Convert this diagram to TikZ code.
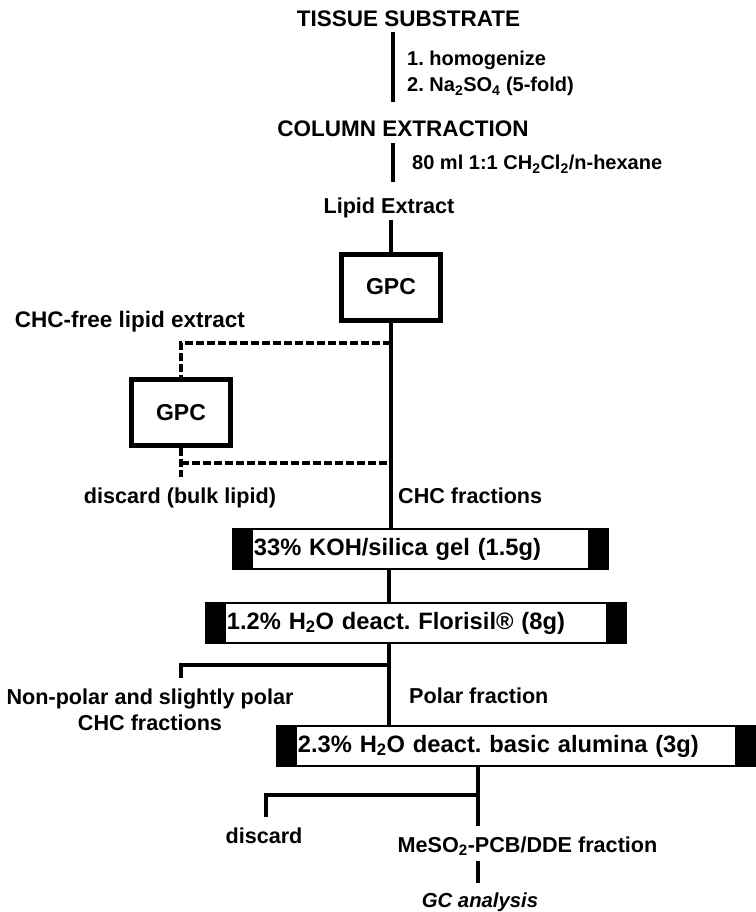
\documentclass[tikz,border=0pt]{standalone}
\usepackage{fontspec}
\setmainfont{Liberation Sans}
\usetikzlibrary{calc}
\frenchspacing
\tikzset{
    lbl/.style={font=\fontsize{21.6}{26}\selectfont\bfseries, inner sep=2pt, anchor=base},
    head/.style={lbl, font=\fontsize{22.5}{27}\selectfont\bfseries},
    note/.style={lbl, font=\fontsize{20}{24}\selectfont\bfseries, anchor=base west},
    gpc/.style={draw, line width=5pt, minimum width=99pt, minimum height=66pt, inner sep=0pt,
        font=\fontsize{23}{27}\selectfont\bfseries},
    col/.style={draw, line width=1.8pt, anchor=west, minimum height=40pt, inner xsep=21pt, inner ysep=0pt,
        align=left, font=\fontsize{23.7}{28}\selectfont\bfseries,
        path picture={
            \fill (path picture bounding box.north west) rectangle ([xshift=20pt]path picture bounding box.south west);
            \fill ([xshift=-20pt]path picture bounding box.north east) rectangle (path picture bounding box.south east);
        }},
    flow/.style={line width=3.2pt},
    bypass/.style={flow, dash pattern=on 8pt off 3pt}
}
\begin{document}
\begin{tikzpicture}[x=1pt, y=-1pt]
\useasboundingbox (0,0) rectangle (755,912);

% Nodes
\node[head] (tissue) at (408.5,27) {TISSUE SUBSTRATE};
\node[note] (homog) at (405,66) {1. homogenize};
\node[note] (dry) at (405,92) {2. Na\textsubscript{2}SO\textsubscript{4} (5-fold)};
\node[head] (colext) at (403,137) {COLUMN EXTRACTION};
\node[note] (solv) at (410,170) {80 ml 1:1 CH\textsubscript{2}Cl\textsubscript{2}/n-hexane};
\node[lbl] (lipid) at (389,213) {Lipid Extract};
\node[gpc] (gpcA) at (391,287) {GPC};
\node[head] (free) at (130,327) {CHC-free lipid extract};
\node[gpc] (gpcB) at (181,412.5) {GPC};
\node[lbl] (bulk) at (180,503) {discard (bulk lipid)};
\node[lbl, anchor=base west] (chc) at (396,503) {CHC fractions};
\node[col, text width=333pt] (koh) at (232,549) {33\% KOH/silica gel (1.5g)};
\node[col, text width=378pt] (flor) at (205,623) {1.2\% H\textsubscript{2}O deact. Florisil® (8g)};
\node[col, text width=436pt] (alum) at (276,746) {2.3\% H\textsubscript{2}O deact. basic alumina (3g)};
\node[lbl, anchor=north, align=center, font=\fontsize{21.6}{26}\selectfont\bfseries] (nonpol) at (150,687) {Non-polar and slightly polar\\CHC fractions};
\node[lbl, anchor=base west] (polar) at (407,703) {Polar fraction};
\node[lbl] (disc) at (264,843) {discard};
\node[lbl] (meso) at (527.5,852) {MeSO\textsubscript{2}-PCB/DDE fraction};
\node[lbl, font=\fontsize{20.3}{24}\selectfont\bfseries\itshape] (gc) at (480,907) {GC analysis};

% Junctions
\coordinate (spine) at (393,0);
\coordinate (tapA) at (391,343);
\coordinate (tapB) at (391,463);
\coordinate (bulkend) at (181,477);
\coordinate (splitA) at (389,665);
\coordinate (npend) at (181,678);
\coordinate (splitB) at (478,795);
\coordinate (dcend) at (266,817);

% Main line
\draw[flow, shorten <=3pt, shorten >=17pt] (tissue.south -| spine) -- (colext.north -| spine);
\draw[flow, shorten <=4pt, shorten >=13pt] (colext.south -| spine) -- (lipid.north -| spine);
\draw[flow] (lipid.south -| gpcA) -- (gpcA.north);
\draw[flow] (gpcA.south) -- (koh.north -| gpcA);
\draw[flow] (koh.south -| splitA) -- (flor.north -| splitA);
\draw[flow] (flor.south -| splitA) -- (alum.north -| splitA);
\draw[flow] (splitA) -| (npend);
\draw[flow, shorten >=8pt] (alum.south -| splitB) -- (meso.north -| splitB);
\draw[flow] (splitB) -| (dcend);
\draw[flow, shorten <=3pt, shorten >=7pt] (meso.south -| splitB) -- (gc.north -| splitB);

% Bypass through second GPC
\draw[bypass] (tapA) -| (gpcB.north);
\draw[bypass] (gpcB.south) -- (bulkend);
\draw[bypass] (tapB -| gpcB) -- (tapB);
\end{tikzpicture}
\end{document}
